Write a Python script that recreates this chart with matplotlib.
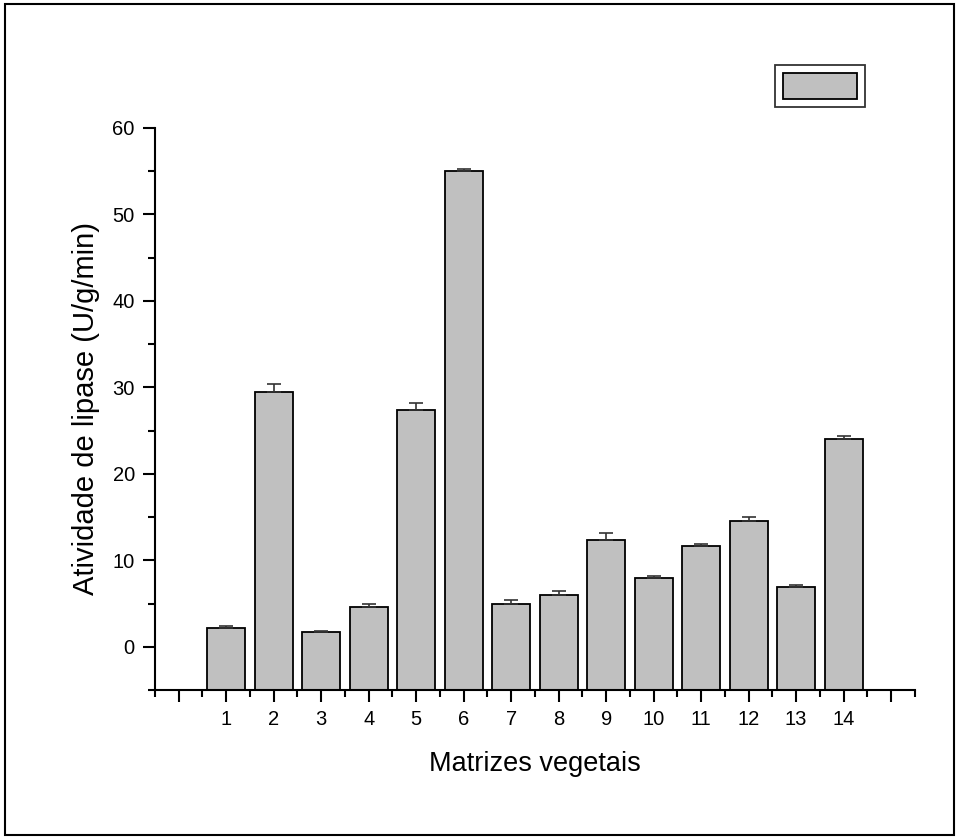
import matplotlib
matplotlib.use("Agg")
import matplotlib.pyplot as plt
from matplotlib.patches import Rectangle
from matplotlib.ticker import MultipleLocator, FixedLocator
import numpy as np

plt.rcParams['font.family'] = ['Liberation Sans', 'DejaVu Sans']

# data
matrizes = np.arange(1, 15)
atividade = [2.2, 29.5, 1.7, 4.6, 27.4, 55.0, 5.0, 6.0, 12.4, 7.9, 11.6, 14.5, 6.9, 24.0]
erro = [0.2, 0.9, 0.1, 0.3, 0.8, 0.3, 0.4, 0.4, 0.8, 0.3, 0.3, 0.5, 0.3, 0.4]

YMIN, YMAX = -5, 60

fig = plt.figure(figsize=(9.59, 8.39), dpi=100)
ax = fig.add_axes([0.1616, 0.1776, 0.7924, 0.6699])

# Origin-style bars: drawn up from the bottom of the axis
alturas = np.array(atividade) - YMIN
bars = ax.bar(matrizes, alturas, bottom=YMIN, width=0.8, color="#c0c0c0",
              edgecolor="black", linewidth=1.3, zorder=2)
ax.errorbar(matrizes, atividade, yerr=[np.zeros(len(erro)), erro], fmt="none",
            ecolor="#333333", elinewidth=1.2, capsize=5, capthick=1.2, zorder=3)

ax.set_xlim(-0.5, 15.5)
ax.set_ylim(YMIN, YMAX)
ax.spines["top"].set_visible(False)
ax.spines["right"].set_visible(False)
for s in ("left", "bottom"):
    ax.spines[s].set_linewidth(1.5)

ax.xaxis.set_major_locator(FixedLocator(range(0, 16)))
ax.set_xticklabels([""] + [str(i) for i in matrizes] + [""])
ax.xaxis.set_minor_locator(MultipleLocator(1, offset=0.5))
ax.yaxis.set_major_locator(FixedLocator(range(0, 61, 10)))
ax.yaxis.set_minor_locator(FixedLocator(range(-5, 60, 10)))
ax.tick_params(which="major", direction="out", length=8.5, width=1.5, labelsize=14.5, pad=6)
ax.tick_params(which="minor", direction="out", length=5, width=1.5)

ax.set_xlabel("Matrizes vegetais", fontsize=19.5, labelpad=16)
ax.set_ylabel("Atividade de lipase (U/g/min)", fontsize=21, labelpad=9)

leg = ax.legend([bars], [""], loc="upper left", bbox_to_anchor=(0.808, 0.9225),
                bbox_transform=fig.transFigure, borderaxespad=0.0,
                frameon=True, fancybox=False, handlelength=4.4, handleheight=2.0,
                handletextpad=0.0, borderpad=0.5, fontsize=12)
leg.get_frame().set_edgecolor("black")
leg.get_frame().set_linewidth(1.3)

fig.patches.append(Rectangle((0.005, 0.005), 0.99, 0.99, transform=fig.transFigure,
                             fill=False, edgecolor="black", linewidth=1.5))

fig.savefig("out.png", dpi=100)
